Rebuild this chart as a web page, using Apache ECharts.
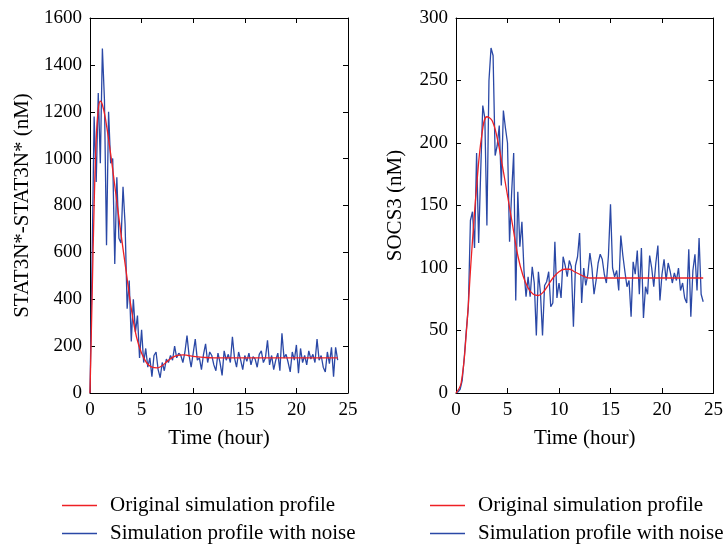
<!DOCTYPE html>
<html>
<head>
<meta charset="utf-8">
<script src="https://cdn.jsdelivr.net/npm/echarts@6/dist/echarts.min.js"></script>
<style>html,body{margin:0;padding:0;background:#fff}#c{width:726px;height:544px}</style>
</head>
<body>
<div id="c"></div>
<script>
// Sample times (hours) of the noisy profiles
var tNoise = [0,0.2,0.4,0.6,0.8,1,1.2,1.4,1.6,1.8,
2,2.2,2.4,2.6,2.8,3,3.2,3.4,3.6,3.8,
4,4.2,4.4,4.6,4.8,5,5.2,5.4,5.6,5.8,
6,6.2,6.4,6.6,6.8,7,7.2,7.4,7.6,7.8,
8,8.2,8.4,8.6,8.8,9,9.2,9.4,9.6,9.8,
10,10.2,10.4,10.6,10.8,11,11.2,11.4,11.6,11.8,
12,12.2,12.4,12.6,12.8,13,13.2,13.4,13.6,13.8,
14,14.2,14.4,14.6,14.8,15,15.2,15.4,15.6,15.8,
16,16.2,16.4,16.6,16.8,17,17.2,17.4,17.6,17.8,
18,18.2,18.4,18.6,18.8,19,19.2,19.4,19.6,19.8,
20,20.2,20.4,20.6,20.8,21,21.2,21.4,21.6,21.8,
22,22.2,22.4,22.6,22.8,23,23.2,23.4,23.6,23.8,
24];
// STAT3N*-STAT3N* with noise (nM)
var statNoise = [0,560,1180,900,1280,980,1470,1250,630,1200,
980,1000,550,920,660,640,880,720,360,480,
220,400,260,330,150,270,130,190,110,150,
70,160,175,100,65,130,95,145,130,160,
140,200,150,170,160,130,175,245,160,110,
170,230,140,150,100,165,210,130,175,160,
120,95,170,130,75,180,140,165,130,240,
150,110,175,140,100,160,135,170,120,155,
145,110,165,180,130,150,225,120,160,100,
140,170,95,255,150,165,130,90,175,140,
205,85,190,130,160,120,180,145,165,130,
230,140,160,110,90,175,125,195,70,195,
140];
// SOCS3 with noise (nM)
var socsNoise = [0,1,3,10,28,50,69,138,145,116,
192,120,178,230,220,134,250,276,270,190,
198,214,166,226,212,200,121,160,192,74,
161,117,137,98,77,93,77,101,88,46,
97,80,46,86,89,97,69,72,121,76,
88,76,109,102,93,106,101,53,102,109,
128,72,100,86,95,112,100,79,90,104,
111,107,95,88,110,151,100,93,98,82,
126,110,97,85,90,61,105,95,114,79,
116,60,85,79,110,100,85,104,118,74,
95,107,90,104,97,88,96,90,100,82,
88,76,72,115,61,98,111,82,124,79,
73];
// Original simulation profiles
var tStat = [0,0.2,0.4,0.6,0.8,1.0,1.2,1.5,2,2.5,3,3.5,4,4.5,5,5.5,6,6.5,7,7.5,8,8.5,9,9.5,10,11,12,14,16,18,20,22,24];
var statOrig = [0,400,800,1080,1210,1245,1230,1170,1020,850,680,520,360,240,170,128,110,107,117,136,152,161,163,160,156,152,150,150,150,150,150,150,150];
var tSocs = [0,0.5,1,1.5,2,2.5,3,3.5,4,4.5,5,5.5,6,6.5,7,7.5,8,8.5,9,9.5,10,10.5,11,11.5,12,12.5,13,14,16,18,20,22,24];
var socsOrig = [0,8,48,110,165,206,221,218,204,182,158,134,110,94,84,79,78,81,87,93,97,99,99,97,95,93,92,92,92,92,92,92,92];

var nameOrig = 'Original simulation profile';
var nameNoise = 'Simulation profile with noise';

function pairs(t, v){ var r=[]; for(var i=0;i<v.length;i++) r.push([t[i], v[i]]); return r; }

var FONT = 'Liberation Serif';
var BLUE = '#2a48a6', RED = '#ee2024';
var lineAx = {show:true, onZero:false, lineStyle:{color:'#000', width:1}};
var tick = {show:true, inside:true, length:5, lineStyle:{color:'#000', width:1}};
var lab = {color:'#000', fontFamily:FONT, fontSize:19, formatter:function(v){return String(v);}};
var nameStyle = {color:'#000', fontFamily:FONT, fontSize:21};

function xAx(g, pos, show){
  return {type:'value', gridIndex:g, position:pos, min:0, max:25, interval:5,
    axisLine:lineAx, axisTick:tick, splitLine:{show:false},
    axisLabel: show ? Object.assign({margin:8}, lab) : {show:false},
    name: show ? 'Time (hour)' : '', nameLocation:'middle', nameGap:35,
    nameTextStyle:nameStyle};
}
function yAx(g, pos, max, iv, name, gap){
  var show = pos==='left';
  return {type:'value', gridIndex:g, position:pos, min:0, max:max, interval:iv,
    axisLine:lineAx, axisTick:tick, splitLine:{show:false},
    axisLabel: show ? Object.assign({margin:8}, lab) : {show:false},
    name: show ? name : '', nameLocation:'middle', nameGap:gap,
    nameTextStyle:nameStyle};
}
function leg(left, top, name){
  return {left:left, top:top, orient:'vertical', icon:'rect', itemWidth:35, itemHeight:1.5,
    data:[name], textStyle:{color:'#000', fontFamily:FONT, fontSize:21, padding:[0,0,0,8]}};
}

var chart = echarts.init(document.getElementById('c'), null, {renderer:'canvas'});
chart.setOption({
  animation:false,
  backgroundColor:'#fff',
  grid:[
    {left:90, top:18, width:258, height:375},
    {left:456, top:18, width:258, height:375}
  ],
  xAxis:[xAx(0,'bottom',true), xAx(1,'bottom',true), xAx(0,'top',false), xAx(1,'top',false)],
  yAxis:[yAx(0,'left',1600,200,'STAT3N*-STAT3N* (nM)',57), yAx(1,'left',300,50,'SOCS3 (nM)',50),
         yAx(0,'right',1600,200,'',0), yAx(1,'right',300,50,'',0)],
  legend:[
    leg(57, 490, nameOrig), leg(57, 518, nameNoise),
    leg(425, 490, nameOrig), leg(425, 518, nameNoise)
  ],
  series:[
    {name:nameNoise, type:'line', xAxisIndex:0, yAxisIndex:0, symbol:'none', data:pairs(tNoise, statNoise),
     lineStyle:{color:BLUE, width:1.3}, itemStyle:{color:BLUE}, z:2},
    {name:nameOrig, type:'line', xAxisIndex:0, yAxisIndex:0, symbol:'none', smooth:0.4, data:pairs(tStat, statOrig),
     lineStyle:{color:RED, width:1.3}, itemStyle:{color:RED}, z:3},
    {name:nameNoise, type:'line', xAxisIndex:1, yAxisIndex:1, symbol:'none', data:pairs(tNoise, socsNoise),
     lineStyle:{color:BLUE, width:1.3}, itemStyle:{color:BLUE}, z:2},
    {name:nameOrig, type:'line', xAxisIndex:1, yAxisIndex:1, symbol:'none', smooth:0.4, data:pairs(tSocs, socsOrig),
     lineStyle:{color:RED, width:1.3}, itemStyle:{color:RED}, z:3}
  ]
});
</script>
</body>
</html>
